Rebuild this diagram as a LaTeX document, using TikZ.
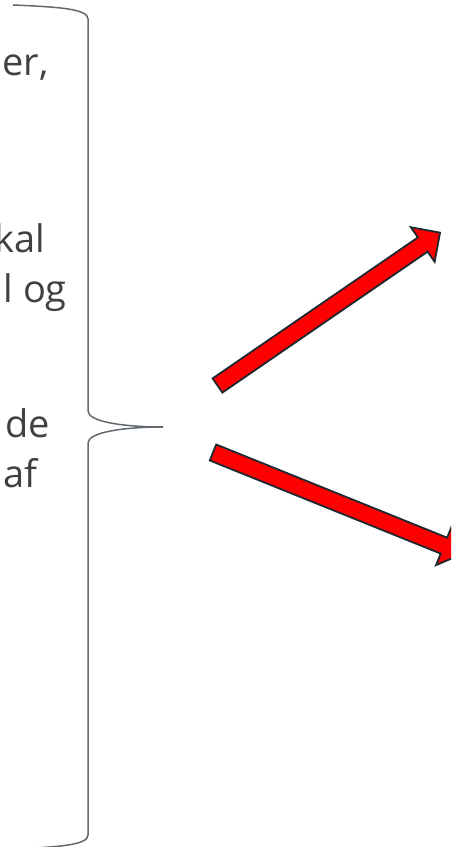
\documentclass[tikz,border=0pt]{standalone}
\usepackage{fontspec}
\setmainfont{Open Sans}
\usetikzlibrary{calc, positioning}
\definecolor{txtgray}{HTML}{404040}
\definecolor{bracegray}{HTML}{626970}
\definecolor{arrred}{HTML}{FF0000}
\definecolor{arrline}{HTML}{1E2830}

\begin{document}
\begin{tikzpicture}[x=1pt, y=1pt,
  txt/.style={anchor=base east, inner sep=0pt, text=txtgray,
              font=\fontsize{38}{46}\selectfont},
  brace/.style={draw=bracegray, line width=1.5pt},
  arrowbody/.style={fill=arrred, draw=arrline, line width=1.8pt, line join=miter},
  redarrow/.pic={
    \draw[arrowbody] (0,8.6) -- (249,8.6) -- (249,21) -- (270,0)
      -- (249,-21) -- (249,-8.6) -- (0,-8.6) -- cycle;
  }]
  \useasboundingbox (0,0) rectangle (451,847);
  \clip (0,0) rectangle (451,847);

  % cut-off text on the left
  \node[txt] (er)  at (49,771) {er,};
  \node[txt] (kal) at (45,594) {kal};
  \node[txt] (og)  at (67,544) {l og};
  \node[txt] (de)  at (50,409) {de};
  \node[txt] (af)  at (38,359) {af};

  % brace
  \coordinate (tip) at (163,420);
  \draw[brace] (13,842) .. controls (60,840) and (88,838) .. (88,828)
    -- (88,436) .. controls (88,425) and (125,420) .. (tip);
  \draw[brace] (tip) .. controls (125,420) and (88,415) .. (88,404)
    -- (88,12) .. controls (88,2) and (60,0) .. (13,-2);

  % red arrows
  \coordinate (upT)   at (217.5,461.5);
  \coordinate (downT) at (213,394.5);
  \pic[rotate=34.48]  at (upT)   {redarrow};
  \pic[rotate=-21.97] at (downT) {redarrow};
\end{tikzpicture}
\end{document}
